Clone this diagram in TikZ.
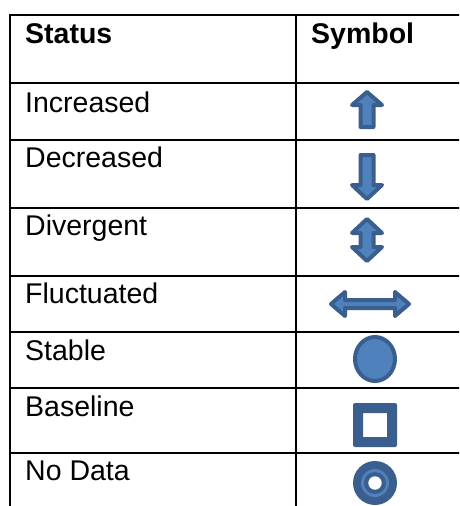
\documentclass[tikz,border=0pt]{standalone}
\usepackage{fontspec}
\setmainfont{Liberation Sans}
\usepackage{tikz}
\definecolor{symfill}{HTML}{4F81BD}
\definecolor{symdark}{HTML}{3A5F8F}
% symbol outlines, drawn round the origin
\def \UpArr{(0,-18) -- (15,-5) -- (6.5,-5) -- (6.5,17) -- (-6.5,17) -- (-6.5,-5) -- (-15,-5) -- cycle}
\def \DownArr{(0,21) -- (15,7) -- (6.5,7) -- (6.5,-23) -- (-6.5,-23) -- (-6.5,7) -- (-15,7) -- cycle}
\def \UpDownArr{(0,-21) -- (15,-7) -- (6.5,-7) -- (6.5,7) -- (15,7) -- (0,21) -- (-15,7) -- (-6.5,7) -- (-6.5,-7) -- (-15,-7) -- cycle}
\def \LeftRightArr{(-39,0) -- (-25,-12) -- (-25,-4) -- (25,-4) -- (25,-12) -- (39,0) -- (25,12) -- (25,4) -- (-25,4) -- (-25,12) -- cycle}
\def \Canvas{(0,0) rectangle (459,506)}

\begin{document}
\begin{tikzpicture}[x=1pt,y=-1pt,
	rule/.style={line width=2.6pt,line cap=rect},
	label/.style={anchor=base west,inner sep=0pt,font=\fontsize{28.5}{34}\selectfont},
	sym/.style={fill=symfill,draw=symdark,line width=4pt,line join=round}]
\useasboundingbox \Canvas;
\clip \Canvas;
% table rules
\foreach \y in {15,83,140,208,276,332,388,453}
	\draw[rule] (10,\y) -- (470,\y);
\draw[rule] (10,15) -- (10,520);
\draw[rule] (296,15) -- (296,520);
% header and status texts
\node[label,font=\fontsize{28.5}{34}\selectfont\bfseries] (status) at (25,43) {Status};
\node[label,font=\fontsize{28.5}{34}\selectfont\bfseries] (symbol) at (311,43) {Symbol};
\node[label] (inc) at (25,112) {Increased};
\node[label] (dec) at (25,167) {Decreased};
\node[label] (div) at (25,235) {Divergent};
\node[label] (fluc) at (25,303) {Fluctuated};
\node[label] (stab) at (25,360) {Stable};
\node[label] (base) at (25,416) {Baseline};
\node[label] (nodata) at (25,480) {No Data};
% symbol column
\coordinate (incsym) at (367,110);
\coordinate (decsym) at (367,178);
\coordinate (divsym) at (367,240);
\coordinate (flucsym) at (370,304);
\coordinate (stabsym) at (375,359);
\coordinate (basesym) at (375,425);
\coordinate (nodatasym) at (375,483);
\scope[shift={(incsym)}] \draw[sym] \UpArr; \endscope
\scope[shift={(decsym)}] \draw[sym] \DownArr; \endscope
\scope[shift={(divsym)}] \draw[sym] \UpDownArr; \endscope
\scope[shift={(flucsym)}] \draw[sym] \LeftRightArr; \endscope
\draw[sym] (stabsym) ellipse [x radius=20,y radius=22];
\scope[shift={(basesym)}]
	\fill[symdark,even odd rule,rounded corners=2pt] (-22,-22) rectangle (22,22)
		[sharp corners] (-12,-12) rectangle (12,12);
\endscope
\scope[shift={(nodatasym)}]
	\fill[symdark] (0,0) circle (22);
	\fill[symfill] (0,0) circle (14);
	\fill[symdark] (0,0) circle (11);
	\fill[white] (0,0) circle (6.7);
\endscope
\end{tikzpicture}
\end{document}
